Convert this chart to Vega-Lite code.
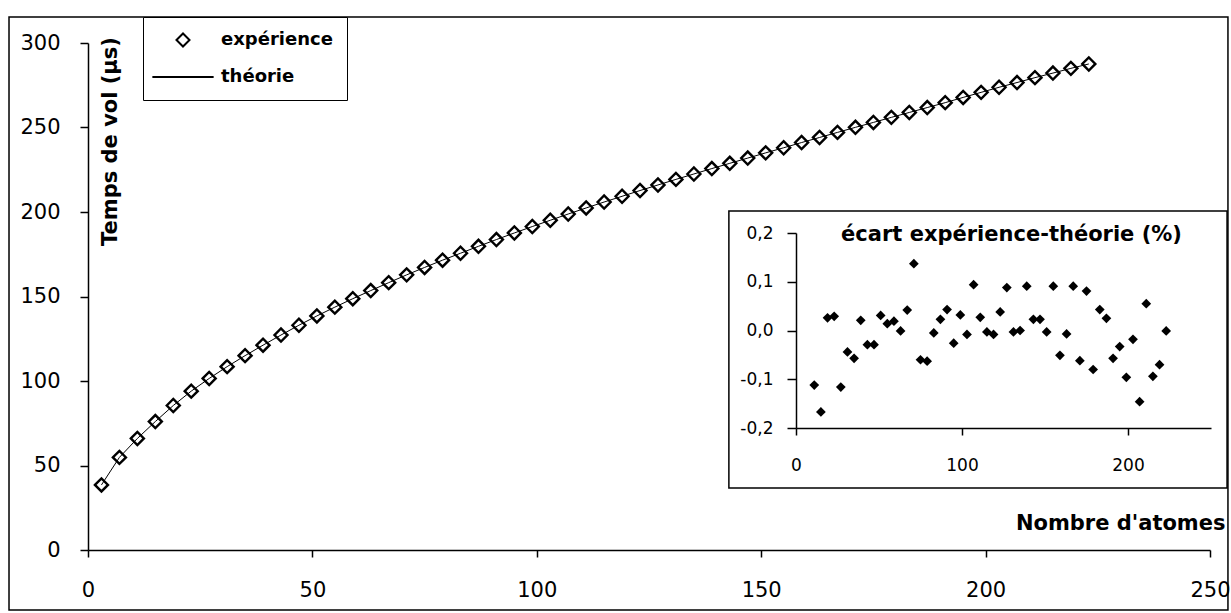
{
  "$schema": "https://vega.github.io/schema/vega-lite/v6.json",
  "width": 1122,
  "height": 507,
  "autosize": {"type": "none"},
  "padding": {"left": 88, "top": 43, "right": 21, "bottom": 63},
  "background": "white",
  "config": {"view": {"stroke": null}, "font": "DejaVu Sans"},
  "data": {"values": [
    {"N": 3, "t": 38.5, "e": null},
    {"N": 7, "t": 54.8, "e": null},
    {"N": 11, "t": 66, "e": -0.112},
    {"N": 15, "t": 76, "e": -0.167},
    {"N": 19, "t": 85.5, "e": 0.026},
    {"N": 23, "t": 94, "e": 0.029},
    {"N": 27, "t": 101.5, "e": -0.116},
    {"N": 31, "t": 108.5, "e": -0.044},
    {"N": 35, "t": 115, "e": -0.057},
    {"N": 39, "t": 121.2, "e": 0.021},
    {"N": 43, "t": 127.2, "e": -0.029},
    {"N": 47, "t": 133, "e": -0.029},
    {"N": 51, "t": 138.5, "e": 0.031},
    {"N": 55, "t": 143.7, "e": 0.014},
    {"N": 59, "t": 148.7, "e": 0.019},
    {"N": 63, "t": 153.5, "e": -0.001},
    {"N": 67, "t": 158.2, "e": 0.042},
    {"N": 71, "t": 162.8, "e": 0.137},
    {"N": 75, "t": 167.2, "e": -0.06},
    {"N": 79, "t": 171.5, "e": -0.063},
    {"N": 83, "t": 175.6, "e": -0.005},
    {"N": 87, "t": 179.7, "e": 0.023},
    {"N": 91, "t": 183.7, "e": 0.043},
    {"N": 95, "t": 187.6, "e": -0.026},
    {"N": 99, "t": 191.4, "e": 0.032},
    {"N": 103, "t": 195.1, "e": -0.008},
    {"N": 107, "t": 198.8, "e": 0.094},
    {"N": 111, "t": 202.4, "e": 0.027},
    {"N": 115, "t": 205.9, "e": -0.003},
    {"N": 119, "t": 209.3, "e": -0.008},
    {"N": 123, "t": 212.7, "e": 0.038},
    {"N": 127, "t": 216, "e": 0.088},
    {"N": 131, "t": 219.3, "e": -0.003},
    {"N": 135, "t": 222.5, "e": 0.0},
    {"N": 139, "t": 225.7, "e": 0.091},
    {"N": 143, "t": 228.8, "e": 0.023},
    {"N": 147, "t": 231.9, "e": 0.023},
    {"N": 151, "t": 235, "e": -0.003},
    {"N": 155, "t": 238, "e": 0.091},
    {"N": 159, "t": 241.1, "e": -0.051},
    {"N": 163, "t": 244.1, "e": -0.007},
    {"N": 167, "t": 247.1, "e": 0.091},
    {"N": 171, "t": 250.1, "e": -0.062},
    {"N": 175, "t": 253, "e": 0.081},
    {"N": 179, "t": 256, "e": -0.08},
    {"N": 183, "t": 258.9, "e": 0.043},
    {"N": 187, "t": 261.8, "e": 0.025},
    {"N": 191, "t": 264.7, "e": -0.057},
    {"N": 195, "t": 267.8, "e": -0.033},
    {"N": 199, "t": 270.8, "e": -0.096},
    {"N": 203, "t": 273.8, "e": -0.018},
    {"N": 207, "t": 276.6, "e": -0.146},
    {"N": 211, "t": 279.5, "e": 0.055},
    {"N": 215, "t": 282.2, "e": -0.094},
    {"N": 219, "t": 285, "e": -0.07},
    {"N": 223, "t": 287.6, "e": -0.001}
  ]},
  "layer": [
    {
      "data": {"values": [{}]},
      "mark": {"type": "rect", "fill": "transparent", "stroke": "black", "strokeWidth": 1.5},
      "encoding": {
        "x": {"datum": -17.6, "type": "quantitative", "scale": {"domain": [0, 250], "nice": false, "zero": false}, "axis": null},
        "x2": {"datum": 254},
        "y": {"datum": 315.4, "type": "quantitative", "scale": {"domain": [0, 300], "nice": false, "zero": false}, "axis": null},
        "y2": {"datum": -35.5}
      }
    },
    {
      "data": {"values": [{}]},
      "mark": {"type": "rect", "fill": "transparent", "stroke": "black", "strokeWidth": 1.5},
      "encoding": {
        "x": {"datum": 142.8, "type": "quantitative", "scale": {"domain": [0, 250], "nice": false, "zero": false}, "axis": null},
        "x2": {"datum": 253.8},
        "y": {"datum": 200.6, "type": "quantitative", "scale": {"domain": [0, 300], "nice": false, "zero": false}, "axis": null},
        "y2": {"datum": 36.7}
      }
    },
    {
      "mark": {"type": "line", "stroke": "black", "strokeWidth": 1},
      "encoding": {
        "x": {"field": "N", "type": "quantitative", "scale": {"domain": [0, 250], "nice": false, "zero": false}, "axis": null},
        "y": {"field": "t", "type": "quantitative", "scale": {"domain": [0, 300], "nice": false, "zero": false}, "axis": null}
      }
    },
    {
      "mark": {"type": "point", "filled": false, "stroke": "black", "strokeWidth": 2.4, "size": 170, "opacity": 1},
      "encoding": {
        "x": {"field": "N", "type": "quantitative", "scale": {"domain": [0, 250], "nice": false, "zero": false},
          "axis": {"orient": "bottom", "values": [0, 50, 100, 150, 200, 250], "grid": false, "zindex": 1,
            "domainColor": "black", "domainWidth": 1.5, "tickColor": "black", "tickWidth": 1.5, "tickSize": 7,
            "labelFont": "DejaVu Sans", "labelFontSize": 21, "labelColor": "black", "labelPadding": 33, "labelBaseline": "middle",
            "labelFlush": false, "labelOverlap": false,
            "title": "Nombre d'atomes", "titleFont": "DejaVu Sans", "titleFontSize": 21, "titleFontWeight": "bold", "titleColor": "black",
            "titleX": 1137, "titleY": -27, "titleAlign": "right", "titleBaseline": "middle"}},
        "y": {"field": "t", "type": "quantitative", "scale": {"domain": [0, 300], "nice": false, "zero": false},
          "axis": {"orient": "left", "values": [0, 50, 100, 150, 200, 250, 300], "grid": false, "zindex": 1,
            "domainColor": "black", "domainWidth": 1.5, "tickColor": "black", "tickWidth": 1.5, "tickSize": 8,
            "labelFont": "DejaVu Sans", "labelFontSize": 21, "labelColor": "black", "labelPadding": 20,
            "labelFlush": false, "labelOverlap": false,
            "title": "Temps de vol (µs)", "titleFont": "DejaVu Sans", "titleFontSize": 21, "titleFontWeight": "bold", "titleColor": "black",
            "titleX": 22, "titleY": 98, "titleAngle": 270, "titleAlign": "center", "titleBaseline": "middle"}},
        "shape": {"datum": "expérience", "type": "nominal",
          "scale": {"domain": ["expérience", "théorie"], "range": ["diamond", "M-4.7,0H4.7"]},
          "legend": {"orient": "none", "legendX": 55, "legendY": -26, "title": null, "padding": 14,
            "strokeColor": "black", "fillColor": "white",
            "symbolSize": 170, "symbolStrokeWidth": 2, "symbolStrokeColor": "black", "symbolFillColor": "transparent",
            "symbolOffset": 17, "labelOffset": 29, "rowPadding": 17,
            "labelFont": "DejaVu Sans", "labelFontSize": 18, "labelFontWeight": "bold", "labelColor": "black", "labelLimit": 300}}
      }
    },
    {
      "transform": [{"filter": "isValid(datum.e)"}],
      "mark": {"type": "point", "shape": "diamond", "filled": true, "fill": "black", "size": 95, "opacity": 1},
      "encoding": {
        "x": {"field": "N", "type": "quantitative", "scale": {"domain": [0, 250], "range": [708, 1123], "nice": false, "zero": false},
          "axis": {"orient": "bottom", "offset": -122, "values": [0, 100, 200], "grid": false, "zindex": 1,
            "domainColor": "black", "domainWidth": 1.5, "tickColor": "black", "tickWidth": 1.5, "tickSize": 7,
            "labelFont": "DejaVu Sans", "labelFontSize": 17, "labelColor": "black", "labelPadding": 30, "labelBaseline": "middle",
            "labelFlush": false, "labelOverlap": false,
            "title": "écart expérience-théorie (%)", "titleFont": "DejaVu Sans", "titleFontSize": 21, "titleFontWeight": "bold", "titleColor": "black",
            "titleX": 923, "titleY": -194, "titleAlign": "center", "titleBaseline": "middle"}},
        "y": {"field": "e", "type": "quantitative", "scale": {"domain": [-0.2, 0.2], "range": [385, 190], "nice": false, "zero": false},
          "axis": {"orient": "left", "offset": -708, "values": [-0.2, -0.1, 0, 0.1, 0.2], "grid": false, "zindex": 1,
            "domainColor": "black", "domainWidth": 1.5, "tickColor": "black", "tickWidth": 1.5, "tickSize": 9,
            "labelFont": "DejaVu Sans", "labelFontSize": 17, "labelColor": "black", "labelPadding": 14,
            "labelFlush": false, "labelOverlap": false,
            "labelExpr": "replace(replace(format(datum.value, '.1f'), '.', ','), '\u2212', '-')",
            "title": null}}
      }
    }
  ],
  "resolve": {"scale": {"x": "independent", "y": "independent"}, "axis": {"x": "independent", "y": "independent"}}
}
